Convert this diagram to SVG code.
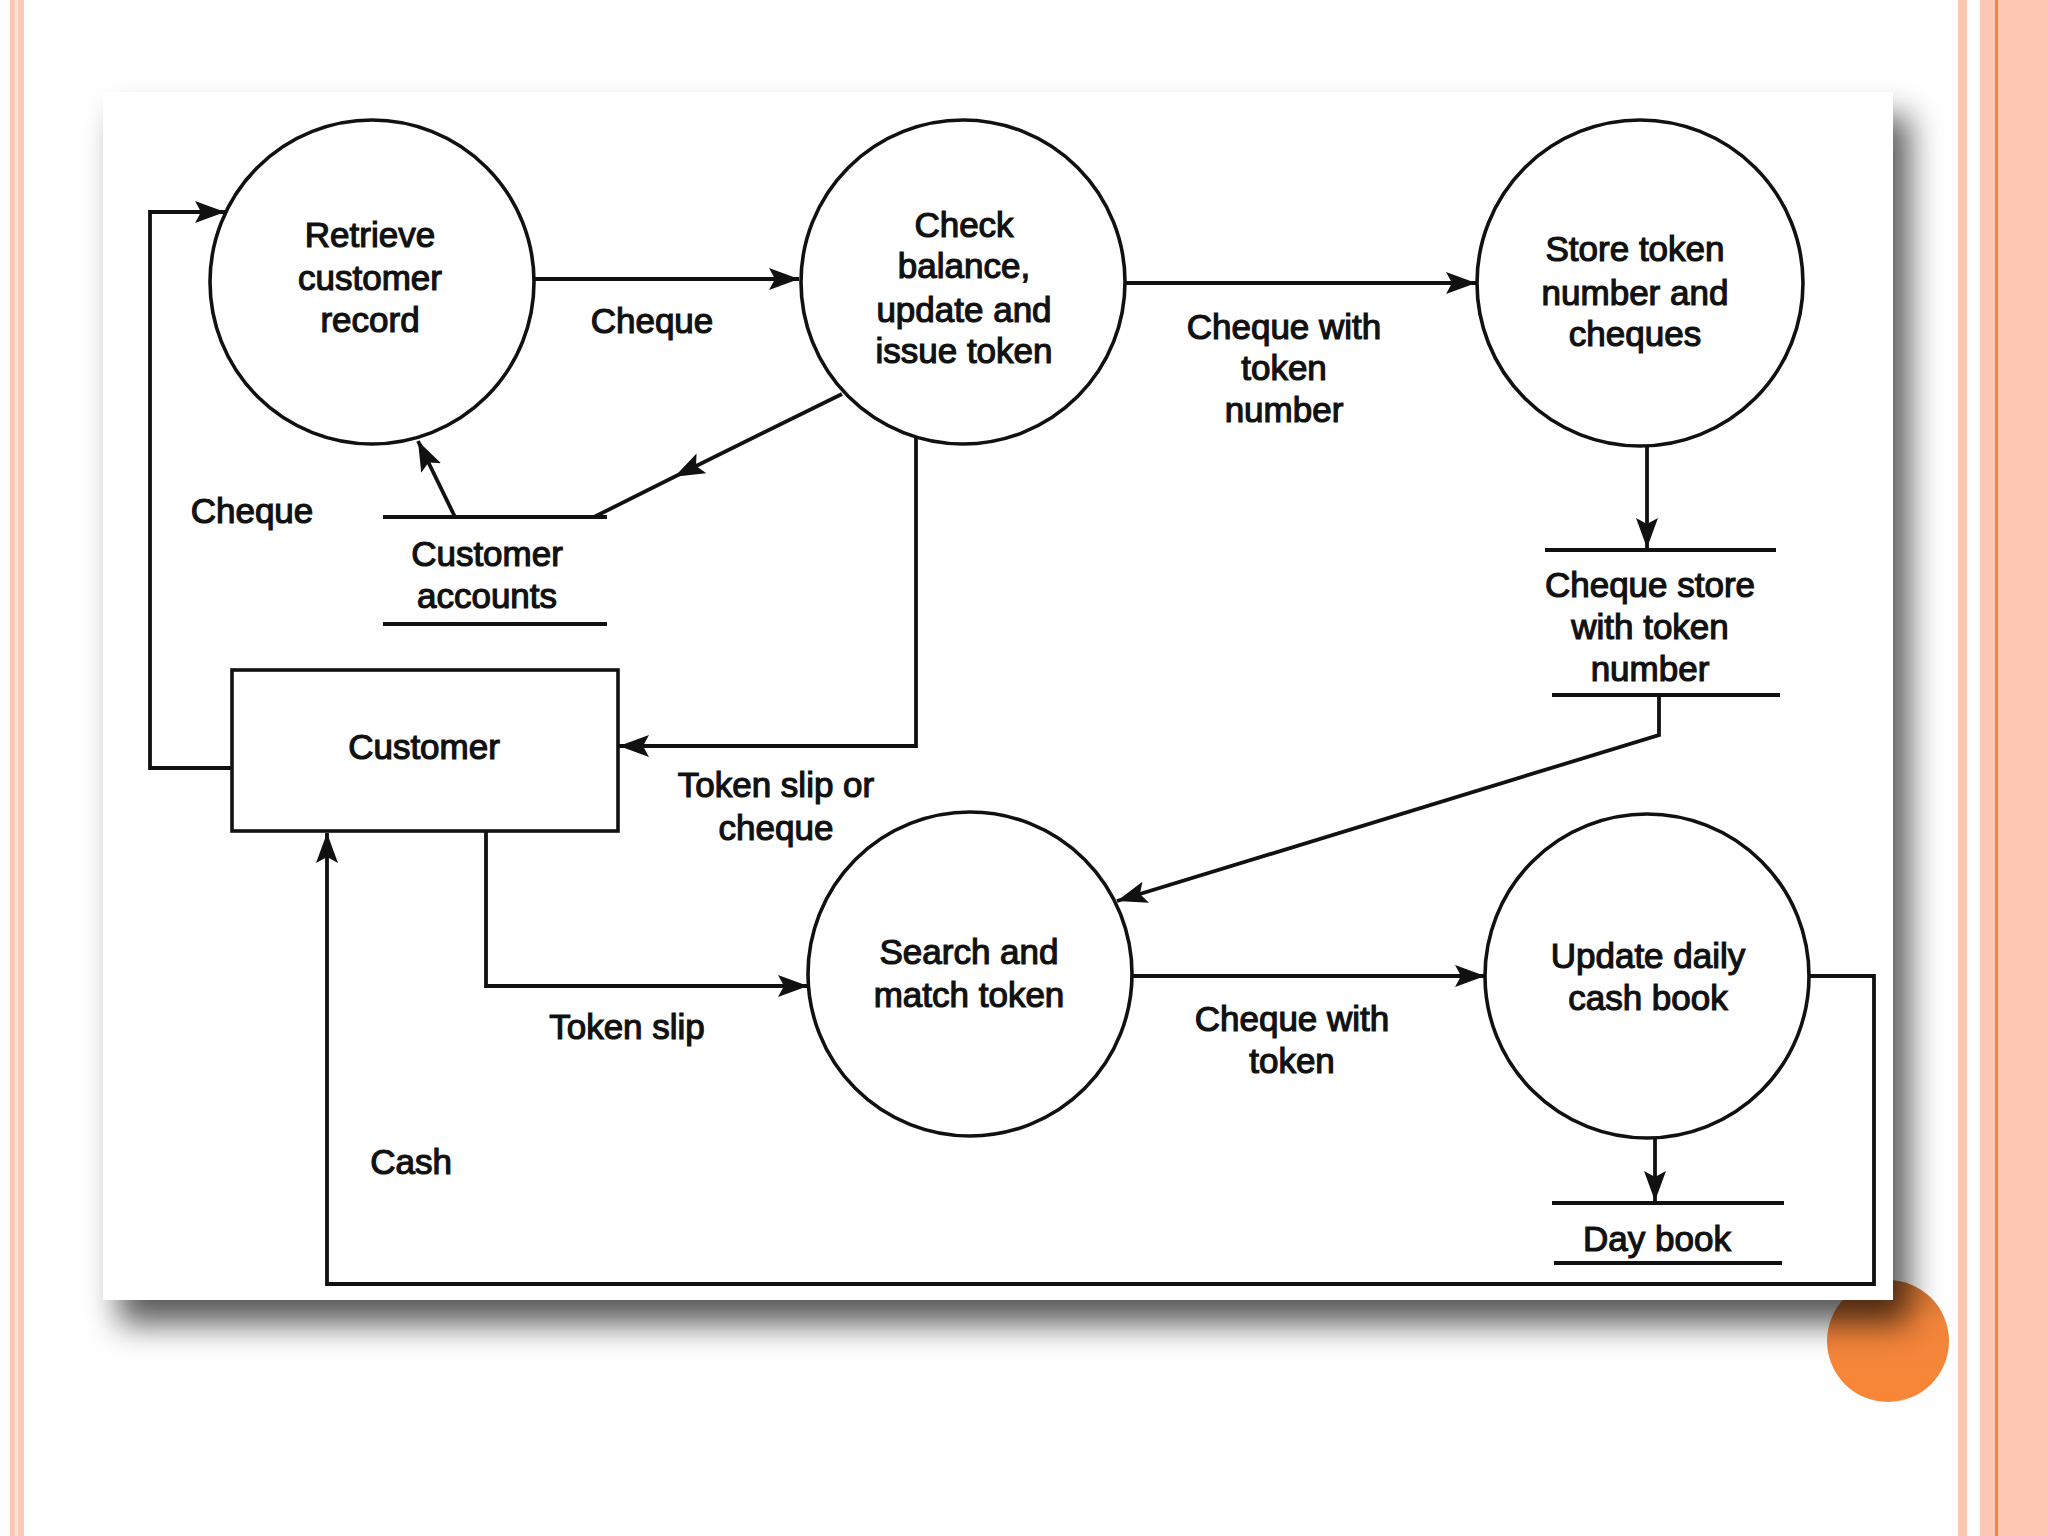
<svg xmlns="http://www.w3.org/2000/svg" width="2048" height="1536" viewBox="0 0 2048 1536">
<defs>
<style>
.t{font-family:"Liberation Sans",Arial,sans-serif;font-size:35px;fill:#111;stroke:#111;stroke-width:1.2px;text-anchor:middle}
.c{fill:#fff;stroke:#111;stroke-width:3.6}
.ln{fill:none;stroke:#111;stroke-width:3.8}
.st{stroke:#111;stroke-width:3.8;fill:none}
</style>
<marker id="ah" markerUnits="userSpaceOnUse" markerWidth="30" markerHeight="22" refX="30" refY="11" orient="auto">
<path d="M0,0 L30,11 L0,22 L6,11 z" fill="#111"/>
</marker>
<marker id="am" markerUnits="userSpaceOnUse" markerWidth="30" markerHeight="22" refX="15" refY="11" orient="auto">
<path d="M0,0 L30,11 L0,22 L6,11 z" fill="#111"/>
</marker>
<filter id="sh" x="-5%" y="-5%" width="115%" height="120%">
<feGaussianBlur in="SourceAlpha" stdDeviation="16"/>
<feOffset dx="16" dy="24" result="b"/>
<feComponentTransfer in="b" result="c"><feFuncA type="linear" slope="0.65"/></feComponentTransfer>
<feMerge><feMergeNode in="c"/><feMergeNode in="SourceGraphic"/></feMerge>
</filter>
<linearGradient id="og" x1="0" y1="0" x2="0" y2="1">
<stop offset="0" stop-color="#c8702f"/>
<stop offset="0.35" stop-color="#f2843a"/>
<stop offset="1" stop-color="#f88638"/>
</linearGradient>
</defs>

<rect x="0" y="0" width="2048" height="1536" fill="#fdfefd"/>
<g id="border">
<rect x="10" y="0" width="14" height="1536" fill="#fbc9b4"/>
<rect x="15" y="0" width="3" height="1536" fill="#fde2d6"/>
<rect x="1958" y="0" width="9" height="1536" fill="#fcc6b1"/>
<rect x="1980" y="0" width="68" height="1536" fill="#fdc8b3"/>
<rect x="1995" y="0" width="3" height="1536" fill="#f5843e"/>
</g>
<circle id="deco" cx="1888" cy="1341" r="61" fill="url(#og)"/>
<rect id="panel" x="103" y="92" width="1790" height="1208" fill="#ffffff" filter="url(#sh)"/>

<g id="connectors">
<path class="ln" d="M232,768 H150 V212 H225" marker-end="url(#ah)"/>
<path class="ln" d="M533,279 H799" marker-end="url(#ah)"/>
<path class="ln" d="M1123,283 H1476" marker-end="url(#ah)"/>
<path class="ln" d="M842,394 L688,470 L594,517" marker-mid="url(#am)"/>
<path class="ln" d="M455,517 L418,441" marker-end="url(#ah)"/>
<path class="ln" d="M916,437 V746 H619" marker-end="url(#ah)"/>
<path class="ln" d="M1647,447 V548" marker-end="url(#ah)"/>
<path class="ln" d="M1659,695 V735 L1117,901" marker-end="url(#ah)"/>
<path class="ln" d="M486,831 V986 H808" marker-end="url(#ah)"/>
<path class="ln" d="M1132,976 H1485" marker-end="url(#ah)"/>
<path class="ln" d="M1655,1137 V1201" marker-end="url(#ah)"/>
<path class="ln" d="M1809,976 H1874 V1284 H327 V833" marker-end="url(#ah)"/>
<text class="t" x="652" y="333">Cheque</text>
<text class="t" x="252" y="523">Cheque</text>
<text class="t" x="1284" y="339">Cheque with</text>
<text class="t" x="1284" y="380">token</text>
<text class="t" x="1284" y="422">number</text>
<text class="t" x="776" y="797">Token slip or</text>
<text class="t" x="776" y="840">cheque</text>
<text class="t" x="627" y="1039">Token slip</text>
<text class="t" x="1292" y="1031">Cheque with</text>
<text class="t" x="1292" y="1073">token</text>
<text class="t" x="411" y="1174">Cash</text>
</g>

<g id="retrieve">
<circle class="c" cx="372" cy="282" r="162"/>
<text class="t" x="370" y="247">Retrieve</text>
<text class="t" x="370" y="290">customer</text>
<text class="t" x="370" y="332">record</text>
</g>
<g id="check">
<circle class="c" cx="963" cy="282" r="162"/>
<text class="t" x="964" y="237">Check</text>
<text class="t" x="964" y="278">balance,</text>
<text class="t" x="964" y="322">update and</text>
<text class="t" x="964" y="363">issue token</text>
</g>
<g id="store">
<circle class="c" cx="1640" cy="283" r="163"/>
<text class="t" x="1635" y="261">Store token</text>
<text class="t" x="1635" y="305">number and</text>
<text class="t" x="1635" y="346">cheques</text>
</g>
<g id="search">
<circle class="c" cx="970" cy="974" r="162"/>
<text class="t" x="969" y="964">Search and</text>
<text class="t" x="969" y="1007">match token</text>
</g>
<g id="update">
<circle class="c" cx="1647" cy="976" r="162"/>
<text class="t" x="1648" y="968">Update daily</text>
<text class="t" x="1648" y="1010">cash book</text>
</g>
<g id="customer">
<rect class="c" x="232" y="670" width="386" height="161"/>
<text class="t" x="424" y="759">Customer</text>
</g>
<g id="customer-accounts">
<line class="st" x1="383" y1="517" x2="607" y2="517"/>
<line class="st" x1="383" y1="624" x2="607" y2="624"/>
<text class="t" x="487" y="566">Customer</text>
<text class="t" x="487" y="608">accounts</text>
</g>
<g id="cheque-store">
<line class="st" x1="1545" y1="550" x2="1776" y2="550"/>
<line class="st" x1="1552" y1="695" x2="1780" y2="695"/>
<text class="t" x="1650" y="597">Cheque store</text>
<text class="t" x="1650" y="639">with token</text>
<text class="t" x="1650" y="681">number</text>
</g>
<g id="day-book">
<line class="st" x1="1552" y1="1203" x2="1784" y2="1203"/>
<line class="st" x1="1554" y1="1263" x2="1782" y2="1263"/>
<text class="t" x="1657" y="1251">Day book</text>
</g>
</svg>
